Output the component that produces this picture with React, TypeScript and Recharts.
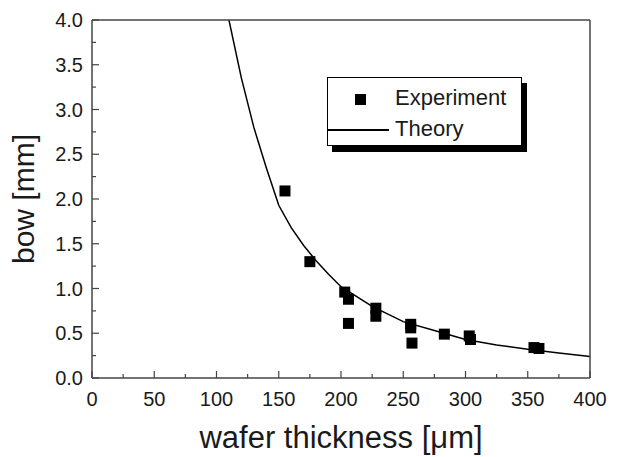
import { ComposedChart, Line, Scatter, XAxis, YAxis, Legend, Label } from 'recharts';

// measured wafers
const expThickness = [155, 175, 203, 206, 206, 228, 228, 256, 256, 257, 283, 303, 304, 355, 359];
const expBow = [2.09, 1.3, 0.96, 0.88, 0.61, 0.78, 0.69, 0.6, 0.56, 0.39, 0.49, 0.47, 0.43, 0.34, 0.33];

// theory curve
const theoryThickness = [100, 110, 120, 130, 140, 150, 160, 170, 180, 190, 200, 225, 250, 275, 300, 325, 350, 375, 400];
const theoryBow = [4.6, 4.0, 3.35, 2.8, 2.35, 1.93, 1.68, 1.48, 1.31, 1.16, 1.02, 0.8, 0.63, 0.53, 0.43, 0.37, 0.32, 0.28, 0.24];

const xTicks = [0, 25, 50, 75, 100, 125, 150, 175, 200, 225, 250, 275, 300, 325, 350, 375, 400];
const yTicks = [0, 0.25, 0.5, 0.75, 1, 1.25, 1.5, 1.75, 2, 2.25, 2.5, 2.75, 3, 3.25, 3.5, 3.75, 4];

const FONT = '"Liberation Sans", Arial, sans-serif';
const INK = '#1a1a1a';
const AXIS = '#444';

const expData = expThickness.map((t, i) => ({ t, bow: expBow[i] }));
const theoryData = theoryThickness.map((t, i) => ({ t, bow: theoryBow[i] }));

const isMajorX = (v: number) => v % 50 === 0;
const isMajorY = (v: number) => Math.abs(v * 2 - Math.round(v * 2)) < 1e-6;

const BottomTick = ({ x, y, payload }: any) => {
  const major = isMajorX(payload.value);
  return (
    <g>
      <line x1={x} x2={x} y1={y} y2={y - (major ? 7 : 4)} stroke={AXIS} strokeWidth={1.2} />
      {major && (
        <text x={x} y={y + 28} textAnchor="middle" fontSize={20} fontFamily={FONT} fill={INK}>
          {payload.value}
        </text>
      )}
    </g>
  );
};

const TopTick = ({ x, y, payload }: any) => (
  <line x1={x} x2={x} y1={y} y2={y + (isMajorX(payload.value) ? 7 : 4)} stroke={AXIS} strokeWidth={1.2} />
);

const LeftTick = ({ x, y, payload }: any) => {
  const major = isMajorY(payload.value);
  return (
    <g>
      <line x1={x} x2={x + (major ? 7 : 4)} y1={y} y2={y} stroke={AXIS} strokeWidth={1.2} />
      {major && (
        <text x={x - 9} y={y + 7} textAnchor="end" fontSize={20} fontFamily={FONT} fill={INK}>
          {payload.value.toFixed(1)}
        </text>
      )}
    </g>
  );
};

const RightTick = ({ x, y, payload }: any) => (
  <line x1={x} x2={x - (isMajorY(payload.value) ? 7 : 4)} y1={y} y2={y} stroke={AXIS} strokeWidth={1.2} />
);

const SquareDot = (props: any) => {
  const { cx, cy } = props;
  return <rect x={cx - 5.5} y={cy - 5.5} width={11} height={11} fill="#000" />;
};

const LegendBox = () => (
  <div
    style={{
      position: 'relative',
      width: 193,
      height: 67,
      border: '1.5px solid #000',
      background: '#fff',
      boxShadow: '5px 6px 0 #000',
      fontFamily: FONT,
      fontSize: 22,
      color: INK,
    }}
  >
    <div style={{ position: 'absolute', left: 27, top: 16, width: 11, height: 11, background: '#000' }} />
    <div style={{ position: 'absolute', left: 67, top: 8, lineHeight: '24px' }}>Experiment</div>
    <div style={{ position: 'absolute', left: -1, top: 51, width: 62, height: 1.5, background: '#000' }} />
    <div style={{ position: 'absolute', left: 67, top: 39, lineHeight: '24px' }}>Theory</div>
  </div>
);

export default function App() {
  return (
    <div style={{ position: 'absolute', left: 0, top: 0, background: '#fff' }}>
      <ComposedChart width={617} height={457} margin={{ top: 19, right: 26, bottom: 9, left: 32 }}>
        <XAxis
          xAxisId="x"
          dataKey="t"
          type="number"
          domain={[0, 400]}
          ticks={xTicks}
          interval={0}
          height={70}
          tickSize={0}
          tickMargin={0}
          tickLine={false}
          tick={<BottomTick />}
          axisLine={{ stroke: AXIS, strokeWidth: 1.5 }}
        >
          <Label
            value="wafer thickness [μm]"
            position="insideBottom"
            offset={0}
            style={{ fontSize: 31, fontFamily: FONT, fill: INK }}
          />
        </XAxis>
        <XAxis
          xAxisId="xt"
          orientation="top"
          type="number"
          domain={[0, 400]}
          ticks={xTicks}
          interval={0}
          height={1}
          tickSize={0}
          tickMargin={0}
          tickLine={false}
          tick={<TopTick />}
          axisLine={{ stroke: AXIS, strokeWidth: 1.5 }}
        />
        <YAxis
          yAxisId="y"
          type="number"
          domain={[0, 4]}
          ticks={yTicks}
          interval={0}
          allowDataOverflow
          width={60}
          tickSize={0}
          tickMargin={0}
          tickLine={false}
          tick={<LeftTick />}
          axisLine={{ stroke: AXIS, strokeWidth: 1.5 }}
        >
          <Label
            value="bow [mm]"
            angle={-90}
            position="insideLeft"
            offset={-9}
            style={{ fontSize: 30, fontFamily: FONT, fill: INK, textAnchor: 'middle' }}
          />
        </YAxis>
        <YAxis
          yAxisId="yr"
          orientation="right"
          type="number"
          domain={[0, 4]}
          ticks={yTicks}
          interval={0}
          width={1}
          tickSize={0}
          tickMargin={0}
          tickLine={false}
          tick={<RightTick />}
          axisLine={{ stroke: AXIS, strokeWidth: 1.5 }}
        />
        <Legend
          layout="vertical"
          align="center"
          verticalAlign="middle"
          wrapperStyle={{ left: 327, top: 77, width: 196, height: 70 }}
          content={<LegendBox />}
        />
        <Line
          xAxisId="x"
          yAxisId="y"
          data={theoryData}
          dataKey="bow"
          type="linear"
          stroke="#000"
          strokeWidth={1.5}
          dot={false}
          legendType="line"
          name="Theory"
          isAnimationActive={false}
        />
        <Scatter
          xAxisId="x"
          yAxisId="y"
          data={expData}
          dataKey="bow"
          shape={<SquareDot />}
          name="Experiment"
          isAnimationActive={false}
        />
      </ComposedChart>
    </div>
  );
}
